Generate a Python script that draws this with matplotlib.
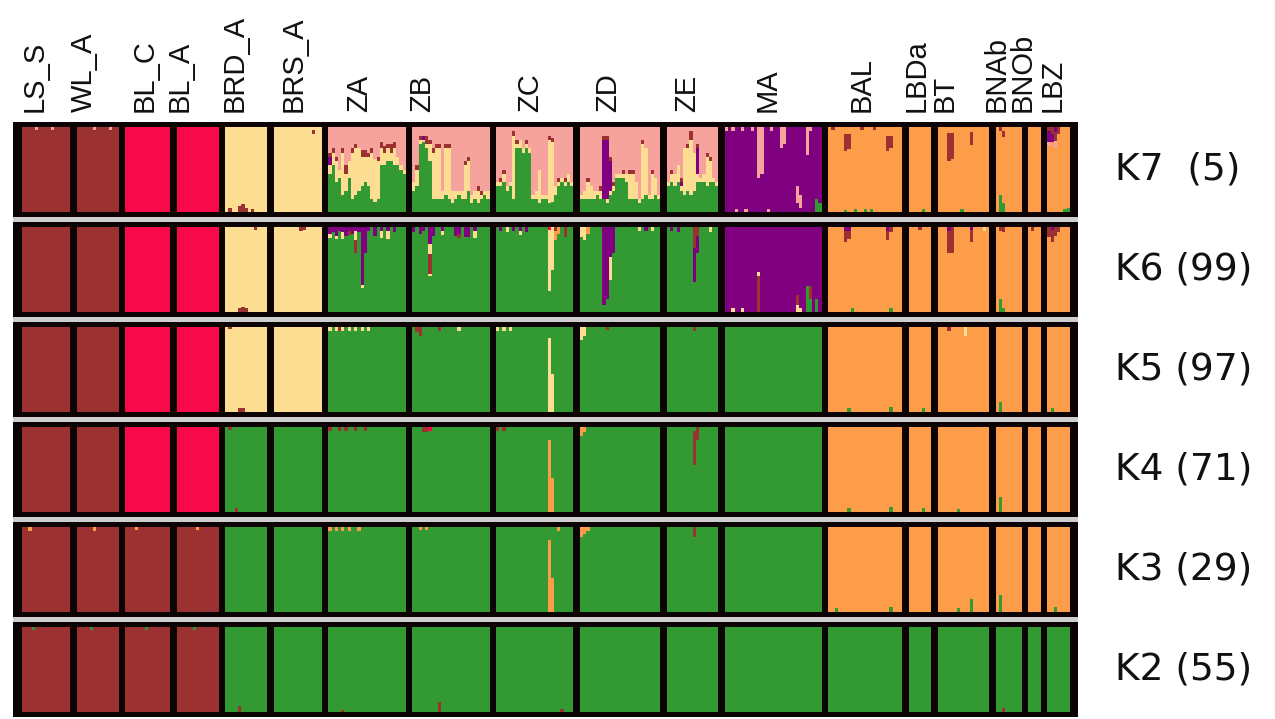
import numpy as np
import matplotlib
matplotlib.use("Agg")
import matplotlib.pyplot as plt
from matplotlib.patches import Rectangle

# populations (left to right) and number of individuals in each
pops = ["LS_S", "WL_A", "BL_C", "BL_A", "BRD_A", "BRS_A", "ZA", "ZB", "ZC", "ZD",
        "ZE", "MA", "BAL", "LBDa", "BT", "BNAb", "BNOb", "LBZ"]
n_ind = [15, 13, 14, 13, 13, 15, 24, 24, 24, 25, 16, 30, 23, 7, 16, 8, 4, 7]

k_values = [7, 6, 5, 4, 3, 2]
k_labels = ["K7  (5)", "K6 (99)", "K5 (97)", "K4 (71)", "K3 (29)", "K2 (55)"]

# cluster colours: 0 dark red, 1 crimson, 2 pale yellow, 3 green, 4 orange, 5 purple, 6 pink
colors = ["#9c3131", "#f80a4a", "#fddd92", "#339a33", "#fe9d49", "#800180", "#f5a39c"]

# main cluster of each population at each K
base = {
    7: [0, 0, 1, 1, 2, 2, 3, 3, 3, 3, 3, 5, 4, 4, 4, 4, 4, 4],
    6: [0, 0, 1, 1, 2, 2, 3, 3, 3, 3, 3, 5, 4, 4, 4, 4, 4, 4],
    5: [0, 0, 1, 1, 2, 2, 3, 3, 3, 3, 3, 3, 4, 4, 4, 4, 4, 4],
    4: [0, 0, 1, 1, 3, 3, 3, 3, 3, 3, 3, 3, 4, 4, 4, 4, 4, 4],
    3: [0, 0, 0, 0, 3, 3, 3, 3, 3, 3, 3, 3, 4, 4, 4, 4, 4, 4],
    2: [0, 0, 0, 0, 3, 3, 3, 3, 3, 3, 3, 3, 3, 3, 3, 3, 3, 3],
}

# K7 admixed Z populations: (green, pale, purple, dark red) per individual, rest pink
ZA_K7 = [(0.45, 0.10, 0.10, 0.05), (0.55, 0.15, 0, 0.05), (0.35, 0.25, 0, 0.05), (0.40, 0.10, 0, 0),
         (0.20, 0.50, 0, 0.05), (0.25, 0.20, 0, 0.10), (0.40, 0.20, 0, 0), (0.15, 0.55, 0, 0.05),
         (0.20, 0.55, 0, 0.05), (0.25, 0.50, 0, 0), (0.30, 0.35, 0, 0.08), (0.35, 0.30, 0, 0.08),
         (0.30, 0.35, 0, 0.05), (0.15, 0.55, 0, 0.05), (0.12, 0.50, 0, 0), (0.15, 0.45, 0, 0.05),
         (0.55, 0.20, 0, 0.08), (0.55, 0.15, 0, 0.08), (0.60, 0.15, 0, 0.05), (0.60, 0.10, 0, 0.10),
         (0.55, 0.20, 0, 0.08), (0.55, 0.10, 0, 0), (0.50, 0.05, 0, 0), (0.45, 0.05, 0, 0)]
ZB_K7 = [(0.25, 0.10, 0, 0), (0.30, 0.20, 0, 0.05), (0.80, 0.05, 0, 0.05), (0.82, 0.03, 0.05, 0),
         (0.75, 0.05, 0, 0.10), (0.60, 0.20, 0, 0.05), (0.15, 0.55, 0, 0.05), (0.15, 0.60, 0, 0.05),
         (0.15, 0.60, 0, 0.05), (0.15, 0.10, 0, 0), (0.20, 0.55, 0, 0.05), (0.15, 0.60, 0, 0.05),
         (0.10, 0.15, 0, 0), (0.15, 0.10, 0, 0), (0.20, 0.05, 0, 0), (0.15, 0.10, 0, 0),
         (0.15, 0.40, 0, 0.05), (0.25, 0.35, 0, 0.05), (0.10, 0.10, 0, 0), (0.15, 0.10, 0, 0),
         (0.10, 0.15, 0, 0.05), (0.15, 0.05, 0, 0.05), (0.20, 0.05, 0, 0), (0.15, 0.10, 0, 0)]
ZC_K7 = [(0.30, 0.05, 0, 0), (0.30, 0.05, 0, 0.05), (0.35, 0.10, 0, 0.05), (0.25, 0.05, 0, 0),
         (0.30, 0.05, 0, 0), (0.15, 0.75, 0, 0.05), (0.75, 0.05, 0, 0.05), (0.75, 0.10, 0, 0),
         (0.70, 0.05, 0, 0), (0.75, 0.05, 0, 0.05), (0.70, 0.05, 0, 0), (0.15, 0.05, 0, 0),
         (0.15, 0.10, 0, 0), (0.10, 0.40, 0, 0), (0.15, 0.05, 0, 0), (0.15, 0.05, 0, 0),
         (0.10, 0.75, 0, 0.05), (0.12, 0.70, 0, 0.05), (0.20, 0.10, 0, 0), (0.30, 0.05, 0, 0.05),
         (0.35, 0.05, 0, 0), (0.30, 0.05, 0, 0.05), (0.35, 0.10, 0, 0), (0.30, 0.05, 0, 0)]
ZD_K7 = [(0.15, 0.05, 0, 0), (0.15, 0.10, 0, 0), (0.15, 0.20, 0, 0.05), (0.15, 0.15, 0, 0),
         (0.15, 0.10, 0, 0), (0.20, 0.05, 0, 0), (0.15, 0.10, 0, 0.05), (0.15, 0.0, 0.70, 0.05),
         (0.10, 0.05, 0.70, 0.05), (0.20, 0.05, 0.35, 0.05), (0.25, 0.05, 0, 0.05), (0.40, 0.05, 0, 0),
         (0.40, 0.05, 0, 0), (0.40, 0.05, 0, 0.05), (0.35, 0.10, 0, 0), (0.15, 0.30, 0, 0.05),
         (0.15, 0.30, 0, 0.05), (0.15, 0.20, 0, 0), (0.10, 0.05, 0, 0), (0.15, 0.65, 0, 0.05),
         (0.20, 0.55, 0, 0), (0.15, 0.05, 0, 0), (0.15, 0.30, 0, 0.05), (0.20, 0.20, 0, 0),
         (0.15, 0.05, 0, 0)]
ZE_K7 = [(0.30, 0.05, 0, 0), (0.35, 0.10, 0, 0.05), (0.30, 0.15, 0, 0), (0.35, 0.20, 0, 0),
         (0.25, 0.05, 0.05, 0.05), (0.20, 0.55, 0, 0), (0.25, 0.50, 0, 0.05), (0.20, 0.65, 0, 0.10),
         (0.25, 0.45, 0, 0), (0.35, 0.10, 0.30, 0.05), (0.35, 0.05, 0, 0), (0.35, 0.10, 0, 0),
         (0.30, 0.35, 0, 0.05), (0.35, 0.25, 0, 0.05), (0.35, 0.05, 0, 0), (0.30, 0.05, 0, 0)]
z_k7 = {"ZA": ZA_K7, "ZB": ZB_K7, "ZC": ZC_K7, "ZD": ZD_K7, "ZE": ZE_K7}

# other admixed individuals: (K, population, individual, segments bottom->top),
# None stands for the population's main cluster (the remainder)
extra = [
    # K7
    (7, "LS_S", 4, [None, (6, 0.03)]), (7, "LS_S", 9, [None, (6, 0.03)]),
    (7, "WL_A", 5, [None, (6, 0.03)]), (7, "WL_A", 10, [None, (6, 0.03)]),
    (7, "BRD_A", 1, [(0, 0.04), None]), (7, "BRD_A", 4, [(0, 0.07), None]),
    (7, "BRD_A", 5, [(0, 0.09), None]), (7, "BRD_A", 6, [(0, 0.05), None]),
    (7, "BRD_A", 8, [(0, 0.03), None]), (7, "BRS_A", 12, [None, (0, 0.05), (2, 0.03)]),
    (7, "MA", 0, [None, (6, 0.05)]), (7, "MA", 2, [None, (6, 0.04)]), (7, "MA", 5, [None, (6, 0.05)]),
    (7, "MA", 8, [None, (6, 0.04)]), (7, "MA", 10, [None, (6, 0.6)]), (7, "MA", 11, [None, (6, 0.55)]),
    (7, "MA", 14, [None, (6, 0.05)]), (7, "MA", 17, [None, (6, 0.25)]), (7, "MA", 18, [None, (6, 0.2)]),
    (7, "MA", 22, [(5, 0.1), (6, 0.2), None]), (7, "MA", 23, [(5, 0.05), (6, 0.15), None]),
    (7, "MA", 25, [None, (6, 0.33)]), (7, "MA", 26, [None, (6, 0.05)]),
    (7, "MA", 28, [(3, 0.15), None]), (7, "MA", 29, [(3, 0.1), None]),
    (7, "MA", 3, [(6, 0.03), None]), (7, "MA", 6, [(6, 0.03), None]), (7, "MA", 13, [(6, 0.03), None]),
    (7, "BAL", 5, [(3, 0.02), None, (0, 0.2), (4, 0.08)]), (7, "BAL", 6, [None, (0, 0.18), (4, 0.08)]),
    (7, "BAL", 18, [None, (0, 0.18), (4, 0.1)]), (7, "BAL", 19, [None, (0, 0.15), (4, 0.1)]),
    (7, "BAL", 1, [None, (0, 0.03)]), (7, "BAL", 10, [None, (0, 0.03)]), (7, "BAL", 14, [None, (0, 0.03)]),
    (7, "BAL", 8, [(3, 0.03), None]), (7, "BAL", 11, [(3, 0.03), None]), (7, "BAL", 13, [(3, 0.03), None]),
    (7, "LBDa", 4, [(3, 0.03), None]),
    (7, "BT", 3, [None, (0, 0.33), (4, 0.07)]), (7, "BT", 4, [None, (0, 0.3), (4, 0.07)]),
    (7, "BT", 10, [None, (0, 0.15), (4, 0.06)]), (7, "BT", 7, [(3, 0.03), None]),
    (7, "BNAb", 1, [(3, 0.2), None, (0, 0.04)]), (7, "BNAb", 2, [(3, 0.1), None, (0, 0.06), (4, 0.05)]),
    (7, "LBZ", 0, [None, (6, 0.05), (5, 0.12), (0, 0.05)]), (7, "LBZ", 1, [None, (5, 0.1), (0, 0.08)]),
    (7, "LBZ", 2, [None, (6, 0.08), (0, 0.1), (5, 0.06)]), (7, "LBZ", 3, [None, (0, 0.08)]),
    (7, "LBZ", 5, [(3, 0.03), None]), (7, "LBZ", 6, [(3, 0.04), None]),
    # K6
    (6, "BRD_A", 4, [(0, 0.05), None]), (6, "BRD_A", 5, [(0, 0.06), None]),
    (6, "BRD_A", 6, [(0, 0.04), None]), (6, "BRD_A", 9, [None, (0, 0.03)]),
    (6, "BRS_A", 8, [None, (0, 0.04)]), (6, "BRS_A", 9, [None, (0, 0.03)]),
    (6, "ZA", 0, [None, (2, 0.05), (5, 0.08)]), (6, "ZA", 1, [None, (5, 0.06)]),
    (6, "ZA", 2, [None, (2, 0.04), (5, 0.1)]), (6, "ZA", 3, [None, (5, 0.05)]),
    (6, "ZA", 4, [None, (2, 0.08), (5, 0.06)]), (6, "ZA", 5, [None, (5, 0.1)]),
    (6, "ZA", 6, [None, (0, 0.04), (5, 0.05)]), (6, "ZA", 7, [None, (5, 0.08)]),
    (6, "ZA", 8, [None, (0, 0.15), (2, 0.1), (5, 0.05)]), (6, "ZA", 9, [None, (5, 0.06)]),
    (6, "ZA", 10, [None, (2, 0.04), (5, 0.68)]), (6, "ZA", 11, [None, (5, 0.3)]),
    (6, "ZA", 12, [None, (5, 0.05)]), (6, "ZA", 14, [None, (5, 0.1)]),
    (6, "ZA", 16, [None, (2, 0.08), (5, 0.05)]), (6, "ZA", 18, [None, (2, 0.1), (5, 0.04)]),
    (6, "ZA", 20, [None, (5, 0.06)]),
    (6, "ZB", 0, [None, (5, 0.06)]), (6, "ZB", 2, [None, (5, 0.08)]), (6, "ZB", 3, [None, (5, 0.05)]),
    (6, "ZB", 5, [None, (2, 0.03), (0, 0.23), (2, 0.12), (5, 0.2)]), (6, "ZB", 6, [None, (5, 0.1)]),
    (6, "ZB", 9, [None, (2, 0.05), (5, 0.04)]), (6, "ZB", 13, [None, (5, 0.1)]),
    (6, "ZB", 14, [None, (0, 0.05), (5, 0.08)]), (6, "ZB", 16, [None, (5, 0.12)]),
    (6, "ZB", 17, [None, (5, 0.12)]), (6, "ZB", 19, [None, (2, 0.08), (5, 0.05)]),
    (6, "ZC", 1, [None, (5, 0.05)]), (6, "ZC", 3, [None, (2, 0.06)]), (6, "ZC", 5, [None, (5, 0.05)]),
    (6, "ZC", 7, [None, (2, 0.05), (5, 0.04)]), (6, "ZC", 9, [None, (5, 0.06)]),
    (6, "ZC", 16, [None, (2, 0.72), (1, 0.03)]), (6, "ZC", 17, [None, (2, 0.5)]),
    (6, "ZC", 18, [None, (4, 0.1), (0, 0.05)]),
    (6, "ZC", 19, [None, (4, 0.08)]), (6, "ZC", 21, [None, (0, 0.12)]),
    (6, "ZD", 0, [None, (2, 0.12)]), (6, "ZD", 1, [None, (2, 0.15)]), (6, "ZD", 2, [None, (4, 0.08)]),
    (6, "ZD", 7, [None, (5, 0.92)]), (6, "ZD", 8, [None, (5, 0.85)]),
    (6, "ZD", 9, [None, (2, 0.28), (5, 0.35)]), (6, "ZD", 10, [None, (5, 0.3)]),
    (6, "ZD", 18, [None, (2, 0.04)]), (6, "ZD", 20, [None, (5, 0.05)]), (6, "ZD", 22, [None, (2, 0.05)]),
    (6, "ZE", 1, [None, (5, 0.05)]), (6, "ZE", 3, [None, (5, 0.06)]),
    (6, "ZE", 8, [None, (5, 0.4), (0, 0.25)]), (6, "ZE", 9, [None, (5, 0.2), (0, 0.1)]),
    (6, "ZE", 13, [None, (2, 0.06)]),
    (6, "MA", 10, [(0, 0.42), (2, 0.05), None]), (6, "MA", 22, [(2, 0.08), (0, 0.12), None]),
    (6, "MA", 23, [(2, 0.05), None]), (6, "MA", 25, [(3, 0.3), None]),
    (6, "MA", 26, [(3, 0.15), (0, 0.15), None]), (6, "MA", 28, [(3, 0.15), None]),
    (6, "MA", 2, [(2, 0.04), None]), (6, "MA", 5, [(2, 0.04), None]),
    (6, "BAL", 5, [None, (0, 0.12), (5, 0.05)]), (6, "BAL", 6, [None, (0, 0.1), (5, 0.04)]),
    (6, "BAL", 18, [None, (0, 0.1), (5, 0.05)]), (6, "BAL", 19, [(3, 0.04), None, (0, 0.06)]),
    (6, "BAL", 7, [(3, 0.04), None]),
    (6, "BT", 3, [None, (0, 0.25), (5, 0.05)]), (6, "BT", 4, [None, (0, 0.3)]),
    (6, "BT", 10, [None, (0, 0.15), (5, 0.03)]), (6, "BT", 14, [None, (2, 0.05)]),
    (6, "BNAb", 1, [(3, 0.15), None, (0, 0.04)]), (6, "BNAb", 2, [(3, 0.05), None, (0, 0.06)]),
    (6, "LBDa", 3, [None, (0, 0.03)]), (6, "BNOb", 1, [None, (0, 0.05)]),
    (6, "LBZ", 0, [None, (0, 0.12)]), (6, "LBZ", 1, [None, (0, 0.15), (5, 0.03)]),
    (6, "LBZ", 2, [None, (0, 0.1)]), (6, "LBZ", 3, [None, (0, 0.06)]),
    # K5
    (5, "BRD_A", 4, [(0, 0.04), None]), (5, "BRD_A", 5, [(0, 0.04), None]),
    (5, "BRD_A", 1, [None, (0, 0.02)]),
    (5, "ZA", 0, [None, (2, 0.04)]), (5, "ZA", 2, [None, (2, 0.04)]), (5, "ZA", 3, [None, (0, 0.05)]),
    (5, "ZA", 4, [None, (2, 0.04)]), (5, "ZA", 6, [None, (2, 0.04)]), (5, "ZA", 8, [None, (2, 0.04)]),
    (5, "ZA", 10, [None, (2, 0.04)]), (5, "ZA", 12, [None, (2, 0.04)]),
    (5, "ZB", 1, [None, (0, 0.06)]), (5, "ZB", 2, [None, (0, 0.1)]),
    (5, "ZB", 8, [None, (0, 0.04)]), (5, "ZB", 14, [None, (2, 0.05)]),
    (5, "ZC", 0, [None, (2, 0.05)]), (5, "ZC", 2, [None, (2, 0.05)]), (5, "ZC", 4, [None, (2, 0.05)]),
    (5, "ZC", 16, [(2, 0.87), None]), (5, "ZC", 17, [(2, 0.45), None]),
    (5, "ZD", 0, [None, (2, 0.15)]), (5, "ZD", 1, [None, (2, 0.1)]), (5, "ZD", 8, [None, (0, 0.03)]),
    (5, "ZE", 8, [None, (0, 0.05)]),
    (5, "BAL", 6, [(3, 0.05), None]), (5, "BAL", 19, [(3, 0.06), None]),
    (5, "BT", 8, [None, (2, 0.1)]), (5, "BT", 3, [None, (0, 0.04)]),
    (5, "BNAb", 1, [(3, 0.12), None]), (5, "LBZ", 1, [(3, 0.05), None]), (5, "LBDa", 4, [(3, 0.05), None]),
    # K4
    (4, "BRD_A", 3, [(0, 0.04), None]), (4, "BRD_A", 1, [None, (0, 0.03)]),
    (4, "ZA", 0, [None, (0, 0.04)]), (4, "ZA", 3, [None, (0, 0.04)]), (4, "ZA", 5, [None, (0, 0.04)]),
    (4, "ZA", 8, [None, (0, 0.04)]), (4, "ZA", 11, [None, (0, 0.04)]),
    (4, "ZB", 3, [None, (0, 0.06)]), (4, "ZB", 4, [None, (0, 0.06)]), (4, "ZB", 5, [None, (1, 0.04)]),
    (4, "ZC", 0, [None, (0, 0.04)]), (4, "ZC", 2, [None, (0, 0.04)]),
    (4, "ZC", 16, [(4, 0.85), None]), (4, "ZC", 17, [(4, 0.4), None]),
    (4, "ZD", 0, [None, (4, 0.1)]), (4, "ZD", 1, [None, (4, 0.06)]),
    (4, "ZE", 8, [None, (0, 0.4), (3, 0.05)]), (4, "ZE", 9, [None, (0, 0.15)]),
    (4, "BAL", 6, [(3, 0.05), None]), (4, "BAL", 19, [(3, 0.06), None]),
    (4, "BNAb", 1, [(3, 0.18), None]), (4, "BT", 6, [(3, 0.03), None]), (4, "LBDa", 4, [(3, 0.04), None]),
    # K3
    (3, "LS_S", 2, [None, (4, 0.04)]), (3, "WL_A", 5, [None, (4, 0.04)]),
    (3, "BL_C", 3, [None, (4, 0.03)]), (3, "BL_A", 6, [None, (4, 0.03)]),
    (3, "ZA", 0, [None, (4, 0.04)]), (3, "ZA", 2, [None, (4, 0.04)]), (3, "ZA", 4, [None, (4, 0.04)]),
    (3, "ZA", 6, [None, (4, 0.04)]), (3, "ZA", 9, [None, (4, 0.04)]),
    (3, "ZB", 2, [None, (4, 0.03)]), (3, "ZB", 4, [None, (4, 0.03)]),
    (3, "ZC", 16, [(4, 0.85), None]), (3, "ZC", 17, [(4, 0.4), None]), (3, "ZC", 19, [None, (4, 0.04)]),
    (3, "ZD", 0, [None, (4, 0.12)]), (3, "ZD", 1, [None, (4, 0.08)]), (3, "ZD", 2, [None, (4, 0.05)]),
    (3, "ZE", 8, [None, (0, 0.12)]),
    (3, "BAL", 2, [(3, 0.04), None]), (3, "BAL", 19, [(3, 0.06), None]),
    (3, "BT", 10, [(3, 0.15), None]), (3, "BT", 6, [(3, 0.04), None]),
    (3, "BNAb", 1, [(3, 0.2), None]), (3, "LBZ", 2, [(3, 0.06), None]),
    # K2
    (2, "LS_S", 3, [None, (3, 0.03)]), (2, "WL_A", 4, [None, (3, 0.03)]),
    (2, "BL_C", 6, [None, (3, 0.03)]), (2, "BL_A", 5, [None, (3, 0.03)]),
    (2, "BRD_A", 4, [(0, 0.07), None]), (2, "ZB", 8, [(0, 0.12), None]),
    (2, "ZA", 4, [(0, 0.02), None]), (2, "ZC", 20, [(0, 0.03), None]), (2, "BNAb", 2, [(0, 0.04), None]),
]

# layout (pixels of the 1275x719 picture)
W, H = 1275, 719
GAP = 2.0            # separator between populations, in individual widths
label_x_px = [35, 84, 145, 180, 235, 294, 359, 422, 530, 608, 687, 768, 862, 917, 945, 997, 1023, 1053]


def individuals(k):
    out = []
    for p, n in enumerate(n_ind):
        out.append([[(base[k][p], 1.0)] for _ in range(n)])
    if k == 7:
        for name, rows in z_k7.items():
            p = pops.index(name)
            for i, (g, t, pu, r) in enumerate(rows):
                out[p][i] = [(3, g), (2, t), (5, pu), (0, r), (6, 1 - g - t - pu - r)]
    for kk, name, i, segs in extra:
        if kk != k:
            continue
        p = pops.index(name)
        rest = 1 - sum(s[1] for s in segs if s is not None)
        out[p][i] = [(base[k][p], rest) if s is None else s for s in segs]
    return out


starts = np.cumsum([0] + n_ind[:-1]) + GAP * np.arange(len(n_ind))
total = starts[-1] + n_ind[-1]

fig = plt.figure(figsize=(W / 100, H / 100), dpi=100)
fig.patch.set_facecolor("white")
fig.add_artist(Rectangle((13 / W, 1 - 717 / H), 1065 / W, 595 / H, transform=fig.transFigure,
                         facecolor="#cfcfcf", edgecolor="none", zorder=0))

for j, k in enumerate(k_values):
    top = 122 + 100 * j
    ax = fig.add_axes([13 / W, 1 - (top + 95) / H, 1065 / W, 95 / H])
    ax.set_facecolor("#0c0404")
    xs, bs, hs, cs = [], [], [], []
    for p, rows in enumerate(individuals(k)):
        for i, segs in enumerate(rows):
            b = 0.0
            for c, f in segs:
                if f > 0:
                    xs.append(starts[p] + i)
                    bs.append(b)
                    hs.append(f)
                    cs.append(colors[c])
                b += f
    ax.bar(xs, hs, bottom=bs, width=1.0, align="edge", color=cs, linewidth=0, antialiased=False)
    ax.set_xlim(-2.8, total + 2.5)
    ax.set_ylim(-0.062, 1.062)
    ax.set_xticks([])
    ax.set_yticks([])
    for s in ax.spines.values():
        s.set_visible(False)
    fig.text(1115 / W, 1 - (top + 47.5) / H, k_labels[j], fontsize=27,
             family="DejaVu Sans", ha="left", va="center", color="#111111")

for name, x in zip(pops, label_x_px):
    fig.text(x / W, 1 - 112 / H, name, rotation=90, fontsize=21, family="Liberation Sans",
             ha="center", va="bottom", color="#111111")

fig.savefig("out.png", dpi=100)
